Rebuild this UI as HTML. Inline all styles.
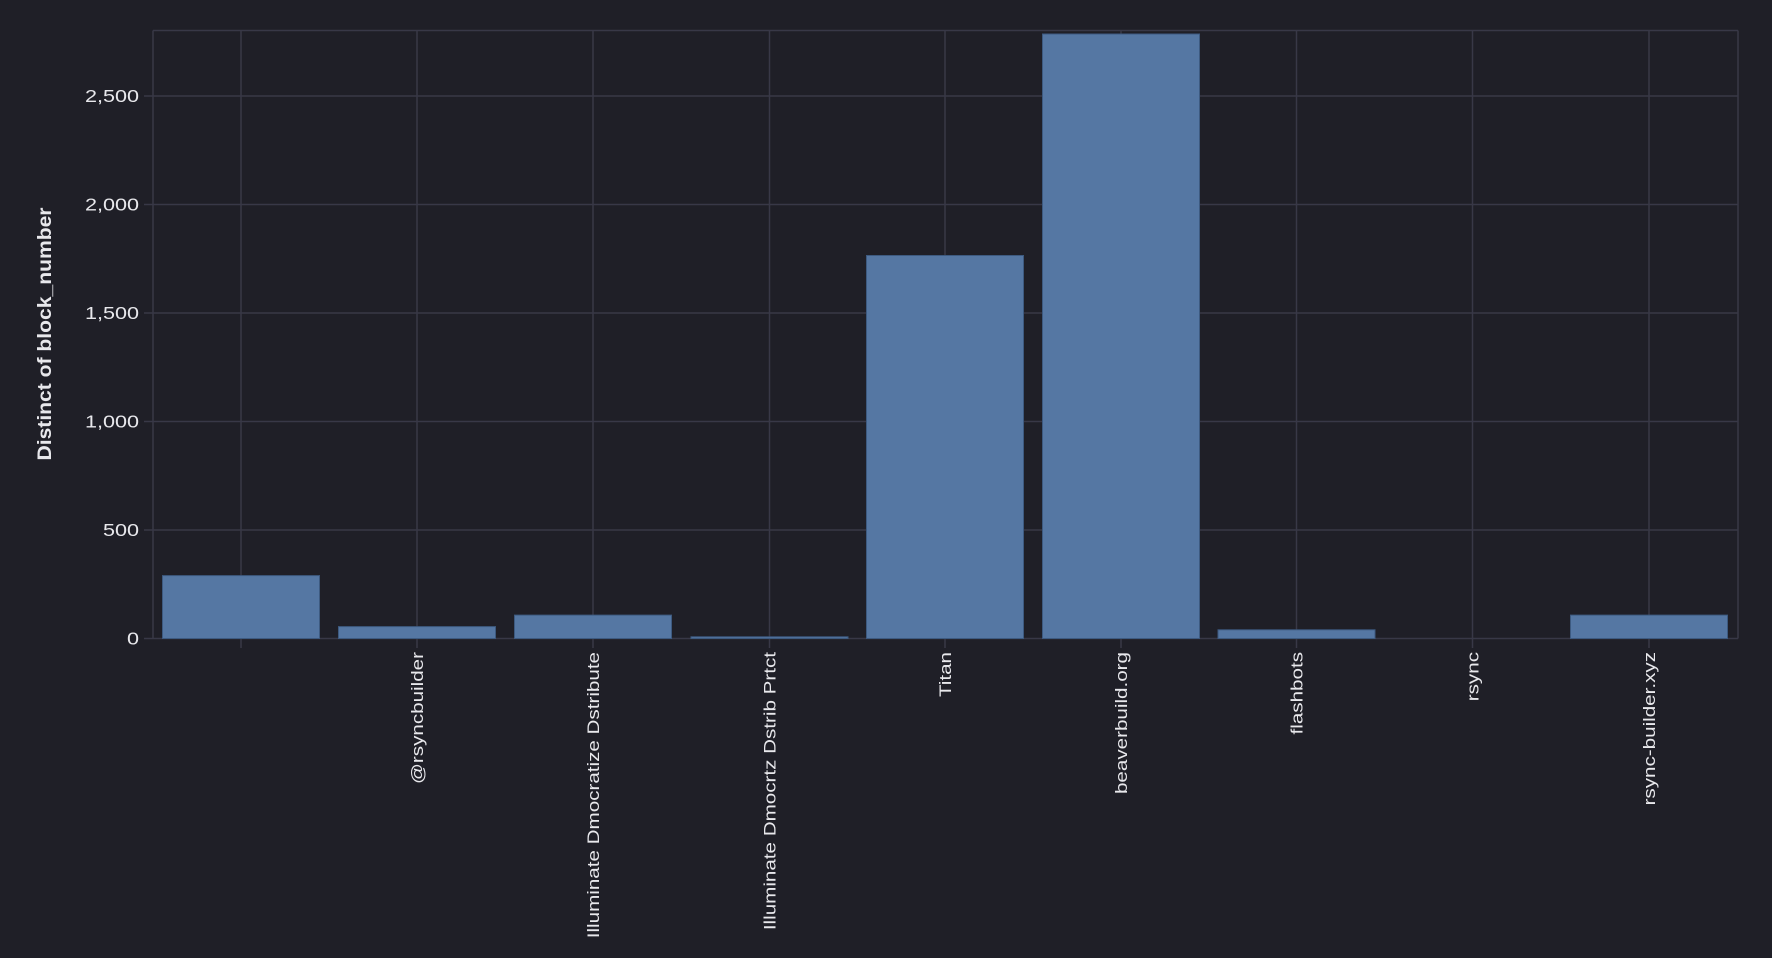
<!DOCTYPE html>
<html><head><style>
html,body{margin:0;padding:0;background:#1f1f27;}
svg{display:block;font-family:"Liberation Sans",sans-serif;}
</style></head><body>
<svg width="1772" height="958" viewBox="0 0 1772 958">
<rect width="1772" height="958" fill="#1f1f27"/>
<g stroke="#383847" stroke-width="1.5">
<line x1="153" y1="96" x2="1738" y2="96"/>
<line x1="153" y1="204.5" x2="1738" y2="204.5"/>
<line x1="153" y1="313" x2="1738" y2="313"/>
<line x1="153" y1="421.5" x2="1738" y2="421.5"/>
<line x1="153" y1="530" x2="1738" y2="530"/>
<line x1="153" y1="30.5" x2="1738" y2="30.5"/>
<line x1="153" y1="30.5" x2="153" y2="638.5"/>
<line x1="1738" y1="30.5" x2="1738" y2="638.5"/>
<line x1="241" y1="30.5" x2="241" y2="648"/>
<line x1="417" y1="30.5" x2="417" y2="648"/>
<line x1="593" y1="30.5" x2="593" y2="648"/>
<line x1="769.5" y1="30.5" x2="769.5" y2="648"/>
<line x1="945" y1="30.5" x2="945" y2="648"/>
<line x1="1121" y1="30.5" x2="1121" y2="648"/>
<line x1="1296.5" y1="30.5" x2="1296.5" y2="648"/>
<line x1="1472.5" y1="30.5" x2="1472.5" y2="648"/>
<line x1="1649" y1="30.5" x2="1649" y2="648"/>
<line x1="144" y1="96" x2="153" y2="96"/>
<line x1="144" y1="204.5" x2="153" y2="204.5"/>
<line x1="144" y1="313" x2="153" y2="313"/>
<line x1="144" y1="421.5" x2="153" y2="421.5"/>
<line x1="144" y1="530" x2="153" y2="530"/>
<line x1="144" y1="638.5" x2="1738" y2="638.5"/>
</g>
<g fill="#5577a3" stroke="#3d5a80" stroke-width="1">
<rect x="162.5" y="575.6" width="157" height="62.9"/>
<rect x="338.5" y="626.6" width="157" height="11.9"/>
<rect x="514.5" y="615.1" width="157" height="23.4"/>
<rect x="691" y="636.8" width="157" height="1.7"/>
<rect x="866.5" y="255.5" width="157" height="383"/>
<rect x="1042.5" y="34" width="157" height="604.5"/>
<rect x="1218" y="629.8" width="157" height="8.7"/>
<rect x="1570.5" y="615.1" width="157" height="23.4"/>
</g>
<g fill="#e8e8ec" font-size="18" text-anchor="end">
<text transform="translate(139,102) scale(1.2,1)">2,500</text>
<text transform="translate(139,210.5) scale(1.2,1)">2,000</text>
<text transform="translate(139,319) scale(1.2,1)">1,500</text>
<text transform="translate(139,427.5) scale(1.2,1)">1,000</text>
<text transform="translate(139,536) scale(1.2,1)">500</text>
<text transform="translate(139,644.5) scale(1.2,1)">0</text>
</g>
<text transform="translate(51,334) rotate(-90) scale(1.11,1)" fill="#e8e8ec" font-size="19" font-weight="bold" text-anchor="middle">Distinct of block_number</text>
<g fill="#e8e8ec" font-size="16.5" text-anchor="end">
<text transform="translate(423,652) rotate(-90) scale(1.25,1)">@rsyncbuilder</text>
<text transform="translate(599,652) rotate(-90) scale(1.25,1)">Illuminate Dmocratize Dstribute</text>
<text transform="translate(775.5,652) rotate(-90) scale(1.25,1)">Illuminate Dmocrtz Dstrib Prtct</text>
<text transform="translate(951,652) rotate(-90) scale(1.25,1)">Titan</text>
<text transform="translate(1127,652) rotate(-90) scale(1.25,1)">beaverbuild.org</text>
<text transform="translate(1302.5,652) rotate(-90) scale(1.25,1)">flashbots</text>
<text transform="translate(1478.5,652) rotate(-90) scale(1.25,1)">rsync</text>
<text transform="translate(1655,652) rotate(-90) scale(1.25,1)">rsync-builder.xyz</text>
</g>
</svg>
</body></html>
